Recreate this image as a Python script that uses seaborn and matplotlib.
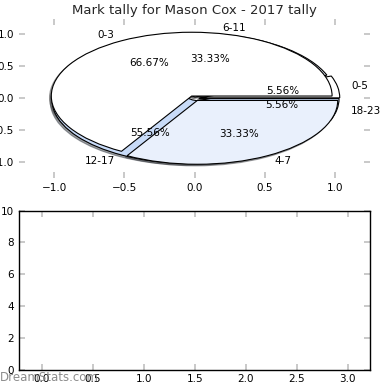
import matplotlib
matplotlib.use("Agg")
import matplotlib.pyplot as plt
import seaborn as sns

# ---- data ----
title = "Mark tally for Mason Cox - 2017 tally"
hour_bins = ["0-5", "6-11", "12-17", "18-23"]
hour_counts = [1, 6, 10, 1]
quarter_bins = ["0-3", "4-7"]
quarter_counts = [12, 6]
pie_ticks = [-1.0, -0.5, 0.0, 0.5, 1.0]
bottom_xticks = [0.0, 0.5, 1.0, 1.5, 2.0, 2.5, 3.0]
bottom_yticks = [0, 2, 4, 6, 8, 10]

hour_colors = ["#ffffff", "#e9f0fc", "#c8dbf8", "#c8dbf8"]
quarter_colors = ["#ffffff", "#e9f0fc"]

sns.set_theme(style="white")
plt.rcParams["font.family"] = ["DejaVu Sans"]

fig = plt.figure(figsize=(3.9, 3.9), dpi=100)
fig.patch.set_facecolor("white")
ax1 = fig.add_axes([19 / 390, 1 - 178 / 390, 351 / 390, 159.5 / 390])
ax2 = fig.add_axes([19 / 390, 1 - 369.5 / 390, 351 / 390, 158.8 / 390])

wp = dict(edgecolor="black", linewidth=0.8)
tp = dict(fontsize=7.5, color="black")
shadow_kw = dict(ox=-0.009, oy=-0.018, shade=0.7)

# underlying pie (hours)
ax1.pie(hour_counts, labels=hour_bins, colors=hour_colors, autopct="%.2f%%",
        explode=[0.035, 0.02, 0.03, 0.03], shadow=shadow_kw, startangle=0,
        wedgeprops=wp, textprops=tp)
# top pie (quarters)
ax1.pie(quarter_counts, labels=quarter_bins, colors=quarter_colors, autopct="%.2f%%",
        explode=[0.04, 0.04], shadow=shadow_kw, startangle=0,
        wedgeprops=wp, textprops=tp)

ax1.set_aspect("auto")
ax1.set_xlim(-1.25, 1.25)
ax1.set_ylim(-1.25, 1.25)
ax1.set_frame_on(False)
ax1.set_xticks(pie_ticks)
ax1.set_yticks(pie_ticks)
ax1.set_xticklabels([f"{t:.1f}".replace("-", "\u2212") for t in pie_ticks])
ax1.set_yticklabels([f"{t:.1f}".replace("-", "\u2212") for t in pie_ticks])
ax1.set_title(title, fontsize=9.5, pad=3)

ax2.set_xlim(-0.225, 3.22)
ax2.set_ylim(0, 10)
ax2.set_xticks(bottom_xticks)
ax2.set_yticks(bottom_yticks)
ax2.set_xticklabels([f"{t:.1f}" for t in bottom_xticks])
ax2.set_yticklabels([str(t) for t in bottom_yticks])
for s in ax2.spines.values():
    s.set_visible(True)
    s.set_color("black")
    s.set_linewidth(1.0)

for ax in (ax1, ax2):
    ax.tick_params(axis="both", which="both", direction="in", length=4, width=1.2,
                   color="#c0c0c0", labelsize=7.5, labelcolor="black",
                   top=True, right=True, bottom=True, left=True, pad=3.5)
    ax.grid(False)
    ax.set_facecolor("white")

fig.text(0.0, 0.022, "DreamStats.com", fontsize=8.5, color="#808080", alpha=0.9,
         ha="left", va="baseline")

fig.savefig("out.png", dpi=100, facecolor="white")
